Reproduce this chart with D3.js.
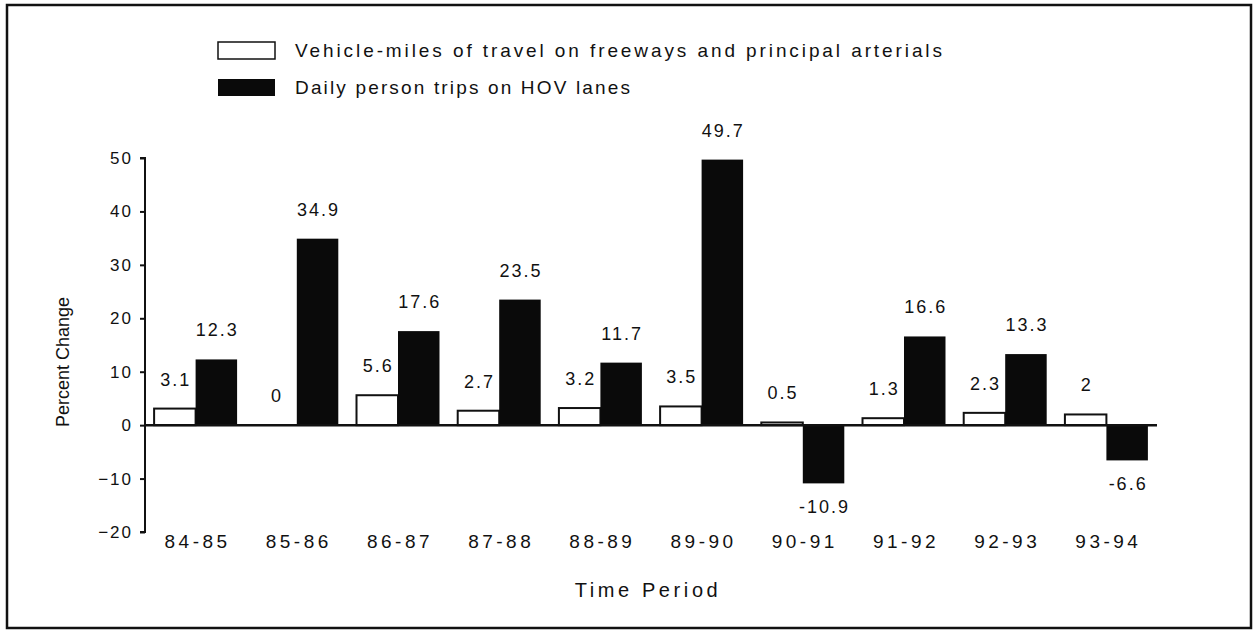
<!DOCTYPE html>
<html>
<head>
<meta charset="utf-8">
<script src="https://cdn.jsdelivr.net/npm/d3@7"></script>
<style>
  html, body { margin: 0; padding: 0; background: #fff; }
  svg text { font-family: "Liberation Sans", Arial, Helvetica, sans-serif; fill: #111; }
</style>
</head>
<body>
<svg id="chart" width="1259" height="631"></svg>
<script>
const categories = ["84-85","85-86","86-87","87-88","88-89","89-90","90-91","91-92","92-93","93-94"];
const vmtValues = [3.1, 0, 5.6, 2.7, 3.2, 3.5, 0.5, 1.3, 2.3, 2];
const hovValues = [12.3, 34.9, 17.6, 23.5, 11.7, 49.7, -10.9, 16.6, 13.3, -6.6];
const seriesNames = ["Vehicle-miles of travel on freeways and principal arterials", "Daily person trips on HOV lanes"];
const yTicks = [-20, -10, 0, 10, 20, 30, 40, 50];

const svg = d3.select("#chart");

// Frame
svg.append("rect").attr("x", 7).attr("y", 5).attr("width", 1244).attr("height", 623)
  .attr("fill", "none").attr("stroke", "#111").attr("stroke-width", 2.5);

const plotL = 145, plotR = 1157, plotT = 158, plotB = 532;
const y = d3.scaleLinear().domain([-20, 50]).range([plotB, plotT]);
const x0 = d3.scaleBand().domain(categories).range([plotL, plotR]).paddingInner(0.18).paddingOuter(0.09);
const keys = ["vmt", "hov"];
const x1 = d3.scaleBand().domain(keys).range([0, x0.bandwidth()]).padding(0);

const data = categories.map((c, i) => ({ cat: c, vmt: vmtValues[i], hov: hovValues[i] }));

// Y axis
const yAxis = d3.axisLeft(y).tickValues(yTicks).tickSize(5).tickPadding(9).tickFormat(d3.format("d"));
const gy = svg.append("g").attr("transform", `translate(${plotL},0)`).call(yAxis);
gy.select(".domain").attr("stroke", "#111").attr("stroke-width", 2).attr("d", `M-5,${plotT}H0V${plotB}H-5`);
gy.selectAll(".tick line").attr("stroke", "#111").attr("stroke-width", 2);
gy.selectAll(".tick text").attr("font-size", 17).attr("letter-spacing", 2).attr("dx", 2)
  .style("font-family", "'Liberation Sans', Arial, sans-serif").attr("fill", "#111");

// Bars
const groups = svg.append("g").selectAll("g").data(data).join("g")
  .attr("transform", d => `translate(${x0(d.cat)},0)`);

groups.selectAll("rect").data(d => keys.map(k => ({ key: k, value: d[k] }))).join("rect")
  .attr("x", d => x1(d.key))
  .attr("width", x1.bandwidth())
  .attr("y", d => y(Math.max(0, d.value)))
  .attr("height", d => Math.abs(y(d.value) - y(0)))
  .attr("fill", d => d.key === "vmt" ? "#fff" : "#0a0a0a")
  .attr("stroke", d => d.key === "vmt" && d.value !== 0 ? "#111" : "none")
  .attr("stroke-width", 2);

// Zero line
svg.append("line").attr("x1", plotL).attr("x2", plotR).attr("y1", y(0)).attr("y2", y(0))
  .attr("stroke", "#111").attr("stroke-width", 2.5);

// Value labels
groups.selectAll("text.val").data(d => keys.map(k => ({ key: k, value: d[k] }))).join("text")
  .attr("class", "val")
  .attr("x", d => x1(d.key) + x1.bandwidth() / 2 + 1)
  .attr("y", d => d.value >= 0 ? y(d.value) - 23 : y(d.value) + 30)
  .attr("text-anchor", "middle")
  .attr("font-size", 18)
  .attr("letter-spacing", 2)
  .text(d => String(d.value));

// Category labels
svg.append("g").selectAll("text").data(categories).join("text")
  .attr("x", d => x0(d) + x0.bandwidth() / 2 + 2)
  .attr("y", 548)
  .attr("text-anchor", "middle")
  .attr("font-size", 19)
  .attr("letter-spacing", 3.5)
  .text(d => d);

// Axis titles
svg.append("text").attr("x", 648).attr("y", 597).attr("text-anchor", "middle")
  .attr("font-size", 20).attr("letter-spacing", 3.6).text("Time Period");
svg.append("text").attr("transform", "translate(69,362) rotate(-90)").attr("text-anchor", "middle")
  .attr("font-size", 18).text("Percent Change");

// Legend
const legend = svg.append("g");
legend.append("rect").attr("x", 218).attr("y", 42).attr("width", 57).attr("height", 17)
  .attr("fill", "#fff").attr("stroke", "#111").attr("stroke-width", 1.5);
legend.append("rect").attr("x", 218).attr("y", 79).attr("width", 57).attr("height", 17)
  .attr("fill", "#0a0a0a");
legend.append("text").attr("x", 295).attr("y", 57).attr("font-size", 19)
  .attr("textLength", 647).attr("lengthAdjust", "spacing").text(seriesNames[0]);
legend.append("text").attr("x", 295).attr("y", 94).attr("font-size", 19)
  .attr("textLength", 335).attr("lengthAdjust", "spacing").text(seriesNames[1]);
</script>
</body>
</html>
